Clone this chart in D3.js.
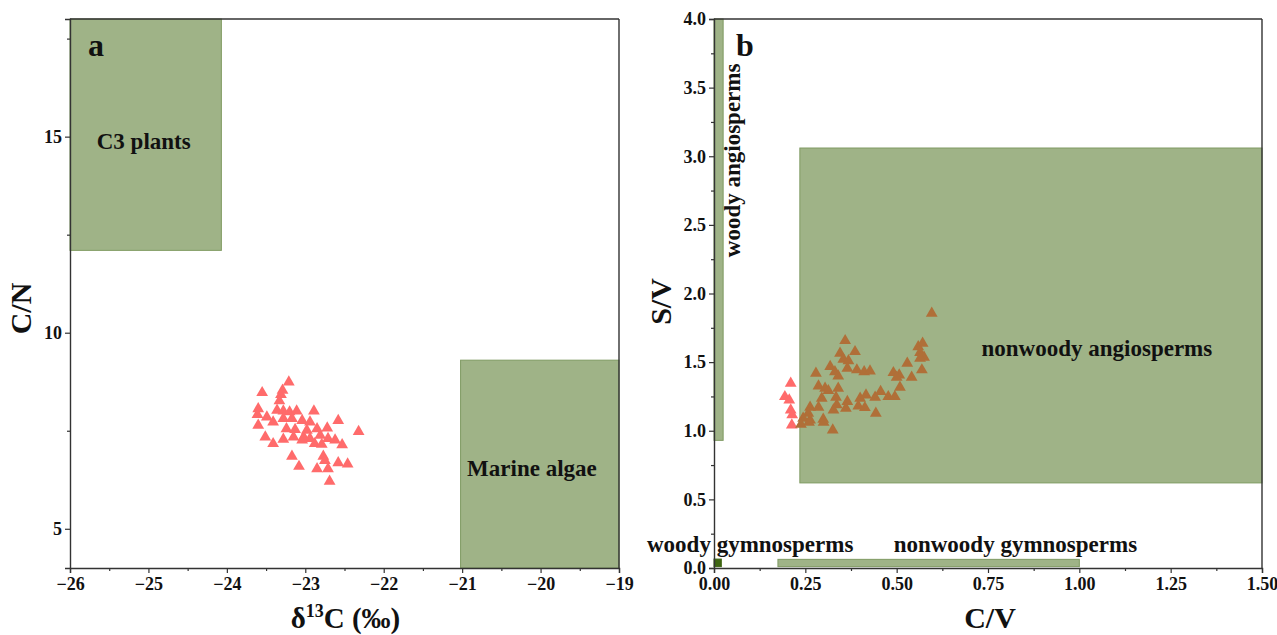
<!DOCTYPE html>
<html>
<head>
<meta charset="utf-8">
<script src="https://cdn.jsdelivr.net/npm/d3@7"></script>
<style>
  body { margin: 0; background: #fff; }
  svg { display: block; }
  text { font-family: "Liberation Serif", "Times New Roman", serif; font-weight: bold; fill: #111; }
</style>
</head>
<body>
<svg id="chart" width="1277" height="635"></svg>
<script>
// Panel a: δ13C vs C/N samples
const d13C = [-23.21,-23.55,-23.29,-23.31,-23.33,-23.60,-23.61,-23.36,-23.28,-23.20,-23.11,-22.89,-23.49,-23.41,-23.60,-23.28,-23.17,-23.04,-22.94,-22.58,-23.51,-23.41,-23.28,-23.15,-23.04,-22.94,-22.88,-22.81,-22.72,-22.71,-22.62,-22.53,-22.32,-23.24,-23.13,-22.98,-22.85,-23.17,-22.77,-22.75,-23.08,-22.85,-22.71,-22.58,-22.46,-22.69,-23.02,-22.79];
const cn   = [8.74,8.47,8.53,8.42,8.26,8.06,7.91,8.02,8.00,7.98,8.00,8.00,7.85,7.72,7.64,7.81,7.81,7.76,7.72,7.76,7.34,7.17,7.28,7.34,7.26,7.30,7.17,7.38,7.57,7.30,7.26,7.14,7.48,7.55,7.53,7.51,7.55,6.85,6.85,6.74,6.59,6.53,6.53,6.68,6.65,6.21,7.34,7.15];

// Panel a source fields: [name, x0, x1, y0, y1]
const fieldsA = [
  ["C3 plants", -26, -24.07, 12.1, 18],
  ["Marine algae", -21.02, -19, 4, 9.3]
];
const xTicksA = [-26, -25, -24, -23, -22, -21, -20, -19];
const yTicksA = [5, 10, 15];

// Panel b: C/V vs S/V samples (two groups)
const cvRed = [0.210,0.194,0.206,0.210,0.214,0.213];
const svRed = [1.346,1.248,1.224,1.151,1.115,1.042];
const cvBrown = [0.596,0.359,0.345,0.386,0.354,0.368,0.365,0.318,0.331,0.340,0.391,0.411,0.427,0.279,0.286,0.304,0.313,0.340,0.295,0.286,0.263,0.258,0.244,0.263,0.299,0.327,0.336,0.334,0.365,0.361,0.395,0.400,0.416,0.441,0.456,0.477,0.495,0.509,0.443,0.325,0.491,0.507,0.500,0.541,0.569,0.529,0.559,0.571,0.564,0.575,0.564,0.413,0.260,0.238,0.300];
const svBrown = [1.856,1.656,1.564,1.576,1.521,1.510,1.455,1.467,1.430,1.399,1.443,1.430,1.435,1.419,1.326,1.309,1.292,1.309,1.236,1.171,1.171,1.127,1.091,1.078,1.083,1.151,1.188,1.244,1.212,1.164,1.180,1.236,1.260,1.244,1.285,1.248,1.248,1.317,1.127,1.005,1.423,1.406,1.389,1.389,1.443,1.491,1.612,1.637,1.569,1.535,1.528,1.168,1.061,1.046,1.061];

// Panel b source fields: [name, x0, x1, y0, y1]
const fieldsB = [
  ["woody angiosperms", 0, 0.025, 0.93, 4.0],
  ["nonwoody angiosperms", 0.235, 1.5, 0.62, 3.06],
  ["woody gymnosperms", 0, 0.02, 0.01, 0.065],
  ["nonwoody gymnosperms", 0.175, 1.0, 0.01, 0.063]
];
const xTicksB = [0, 0.25, 0.5, 0.75, 1.0, 1.25, 1.5];
const yTicksB = [0, 0.5, 1.0, 1.5, 2.0, 2.5, 3.0, 3.5, 4.0];

const svg = d3.select("#chart");
const GREEN = "#9fb387", GREEN_EDGE = "#7f9a62", DARK_GREEN = "#3e6612";
const RED = "#ff6b6b", BROWN = "#b06f38";
const FIELD_FONT = "23px";
const tri = d3.symbol(d3.symbolTriangle, 60);

function frame(g, w, h) {
  g.append("line").attr("x1", 0).attr("x2", w).attr("y1", 0).attr("y2", 0)
    .attr("stroke", "#333").attr("stroke-width", 1.4);
  g.append("line").attr("x1", w).attr("x2", w).attr("y1", 0).attr("y2", h)
    .attr("stroke", "#333").attr("stroke-width", 1.4);
}

function axes(g, x, y, h, xt, yt, xMinor, yMinor, xFmt, yFmt) {
  g.append("g").attr("transform", `translate(0,${h})`)
    .call(d3.axisBottom(x).tickValues(xt).tickFormat(xFmt).tickSizeOuter(0).tickSize(5).tickPadding(4));
  g.append("g").attr("transform", `translate(0,${h})`)
    .call(d3.axisBottom(x).tickValues(xMinor).tickFormat("").tickSizeOuter(0).tickSize(3))
    .select(".domain").remove();
  g.append("g")
    .call(d3.axisLeft(y).tickValues(yt).tickFormat(yFmt).tickSizeOuter(0).tickSize(5).tickPadding(3));
  g.append("g")
    .call(d3.axisLeft(y).tickValues(yMinor).tickFormat("").tickSizeOuter(0).tickSize(3))
    .select(".domain").remove();
  g.selectAll(".domain").attr("stroke", "#333").attr("stroke-width", 1.4);
  g.selectAll(".tick line").attr("stroke", "#333").attr("stroke-width", 1.2);
  g.selectAll(".tick text").style("font-family", '"Liberation Serif", "Times New Roman", serif')
    .style("font-weight", "bold").style("font-size", "18px").attr("fill", "#111");
}

function fieldLabel(g, px, py, txt, rotate) {
  g.append("text")
    .attr("transform", `translate(${px},${py})` + (rotate ? " rotate(-90)" : ""))
    .attr("text-anchor", "middle").attr("dominant-baseline", "middle")
    .style("font-size", FIELD_FONT).text(txt);
}

// ---------- Panel a ----------
{
  const L = 70, T = 19, W = 549, H = 549;
  const g = svg.append("g").attr("transform", `translate(${L},${T})`);
  const x = d3.scaleLinear().domain([-26, -19]).range([0, W]);
  const y = d3.scaleLinear().domain([4, 18]).range([H, 0]);

  g.selectAll("rect.field").data(fieldsA).join("rect").attr("class", "field")
    .attr("x", d => x(d[1])).attr("width", d => x(d[2]) - x(d[1]))
    .attr("y", d => y(d[4])).attr("height", d => y(d[3]) - y(d[4]))
    .attr("fill", GREEN).attr("stroke", GREEN_EDGE).attr("stroke-width", 1);

  fieldLabel(g, x(-25.06), y(14.82), fieldsA[0][0]);
  fieldLabel(g, x(-20.11), y(6.49), fieldsA[1][0]);

  g.selectAll("path.pt").data(d13C.map((v, i) => [v, cn[i]])).join("path").attr("class", "pt")
    .attr("d", tri).attr("transform", d => `translate(${x(d[0])},${y(d[1])})`)
    .attr("fill", RED);

  frame(g, W, H);
  const xMinor = d3.range(-25.5, -19, 1);
  const yMinor = [7.5, 12.5, 17.5];
  axes(g, x, y, H, xTicksA, yTicksA, xMinor, yMinor, d => String(d).replace("-", "\u2212"), d3.format("d"));

  g.append("text").attr("x", 18).attr("y", 37).style("font-size", "32px").text("a");

  g.append("text").attr("transform", `translate(${-46},${H / 2 + 15}) rotate(-90)`)
    .attr("text-anchor", "middle").attr("dominant-baseline", "middle")
    .style("font-size", "30px").text("C/N");

  const xl = g.append("text").attr("x", W / 2 + 1).attr("y", H + 60).attr("text-anchor", "middle")
    .style("font-size", "29px");
  xl.append("tspan").text("δ");
  xl.append("tspan").attr("dy", -11).style("font-size", "18px").text("13");
  xl.append("tspan").attr("dy", 11).text("C (‰)");
}

// ---------- Panel b ----------
{
  const L = 714, T = 19, W = 548, H = 549;
  const g = svg.append("g").attr("transform", `translate(${L},${T})`);
  const x = d3.scaleLinear().domain([0, 1.5]).range([0, W]);
  const y = d3.scaleLinear().domain([0, 4]).range([H, 0]);

  g.selectAll("rect.field").data(fieldsB).join("rect").attr("class", "field")
    .attr("x", d => x(d[1])).attr("width", d => x(d[2]) - x(d[1]))
    .attr("y", d => y(d[4])).attr("height", d => y(d[3]) - y(d[4]))
    .attr("fill", (d, i) => i === 2 ? DARK_GREEN : GREEN)
    .attr("stroke", (d, i) => i === 2 ? DARK_GREEN : GREEN_EDGE).attr("stroke-width", 1);

  fieldLabel(g, x(0.057), y(2.97), fieldsB[0][0], true);
  fieldLabel(g, x(1.048), y(1.58), fieldsB[1][0]);
  fieldLabel(g, x(0.099), y(0.155), fieldsB[2][0]);
  fieldLabel(g, x(0.825), y(0.155), fieldsB[3][0]);

  g.selectAll("path.red").data(cvRed.map((v, i) => [v, svRed[i]])).join("path").attr("class", "red")
    .attr("d", tri).attr("transform", d => `translate(${x(d[0])},${y(d[1])})`).attr("fill", RED);
  g.selectAll("path.brown").data(cvBrown.map((v, i) => [v, svBrown[i]])).join("path").attr("class", "brown")
    .attr("d", tri).attr("transform", d => `translate(${x(d[0])},${y(d[1])})`).attr("fill", BROWN);

  frame(g, W, H);
  const xMinor = d3.range(0.125, 1.5, 0.25);
  const yMinor = d3.range(0.25, 4, 0.5);
  axes(g, x, y, H, xTicksB, yTicksB, xMinor, yMinor, d3.format(".2f"), d3.format(".1f"));

  g.append("text").attr("x", 22).attr("y", 37).style("font-size", "32px").text("b");

  g.append("text").attr("transform", `translate(${-50},${H / 2 + 8}) rotate(-90)`)
    .attr("text-anchor", "middle").attr("dominant-baseline", "middle")
    .style("font-size", "30px").text("S/V");

  g.append("text").attr("x", W / 2 + 2).attr("y", H + 60).attr("text-anchor", "middle")
    .style("font-size", "30px").text("C/V");
}
</script>
</body>
</html>
